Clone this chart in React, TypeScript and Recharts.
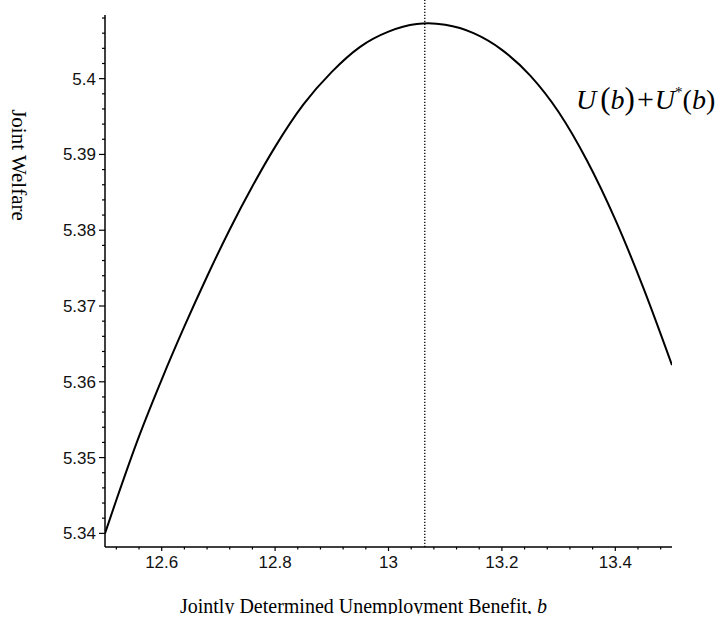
import React from 'react';
import { LineChart, Line, XAxis, YAxis, ReferenceLine } from 'recharts';

// Jointly determined unemployment benefit b (x) and joint welfare U(b)+U*(b) (y)
const benefit = [12.5, 12.52, 12.56, 12.6, 12.64, 12.68, 12.72, 12.76, 12.8, 12.85, 12.9, 12.95, 13.0, 13.05, 13.07, 13.1, 13.15, 13.2, 13.25, 13.3, 13.35, 13.4, 13.45, 13.5];
const welfare = [5.34, 5.3444, 5.3528, 5.3603, 5.3673, 5.3739, 5.3801, 5.3858, 5.391, 5.3966, 5.4009, 5.4042, 5.4062, 5.4072, 5.4073, 5.4071, 5.406, 5.4038, 5.4004, 5.3956, 5.3892, 5.3814, 5.3723, 5.3622];

const optimumBenefit = 13.064;

const xDomain = [12.5, 13.5];
const yDomain = [5.3382, 5.4084];
const yLineTop = 5.4105;

const xMajorTicks = [12.6, 12.8, 13, 13.2, 13.4];
const xMinorTicks = [12.52, 12.56, 12.64, 12.68, 12.72, 12.76, 12.84, 12.88, 12.92, 12.96, 13.04, 13.08, 13.12, 13.16, 13.24, 13.28, 13.32, 13.36, 13.44, 13.48];
const yMajorTicks = [5.34, 5.35, 5.36, 5.37, 5.38, 5.39, 5.4];
const yMinorTicks = [5.342, 5.344, 5.346, 5.348, 5.352, 5.354, 5.356, 5.358, 5.362, 5.364, 5.366, 5.368, 5.372, 5.374, 5.376, 5.378, 5.382, 5.384, 5.386, 5.388, 5.392, 5.394, 5.396, 5.398, 5.402, 5.404, 5.406, 5.408];

const data = benefit.map((b, i) => ({ b, w: welfare[i] }));
const xTicks = [...xMajorTicks, ...xMinorTicks].sort((a, c) => a - c);
const yTicks = [...yMajorTicks, ...yMinorTicks].sort((a, c) => a - c);

const isMajor = (v: number, list: number[]) => list.some((m) => Math.abs(m - v) < 1e-6);

const tickFont = "'Liberation Sans', Arial, sans-serif";
const serif = "'Liberation Serif', 'Times New Roman', serif";

const XTick = (props: any) => {
  const { x, y, payload } = props;
  const major = isMajor(payload.value, xMajorTicks);
  return (
    <g>
      <line x1={x} x2={x} y1={y} y2={y + (major ? 4 : 2.5)} stroke="#000" strokeWidth={1.2} />
      {major && (
        <text x={x} y={y + 21} textAnchor="middle" fontFamily={tickFont} fontSize={17} fill="#111">
          {String(payload.value)}
        </text>
      )}
    </g>
  );
};

const YTick = (props: any) => {
  const { x, y, payload } = props;
  const major = isMajor(payload.value, yMajorTicks);
  return (
    <g>
      <line x1={x} x2={x - (major ? 6 : 3)} y1={y} y2={y} stroke="#000" strokeWidth={1.2} />
      {major && (
        <text x={x - 9} y={y + 6} textAnchor="end" fontFamily={tickFont} fontSize={17} fill="#111">
          {String(payload.value)}
        </text>
      )}
    </g>
  );
};

export default function App() {
  return (
    <div style={{ position: 'absolute', left: 0, top: 0, width: 726, height: 623, background: '#fff' }}>
      <LineChart width={726} height={623} data={data} margin={{ top: 15, right: 54, bottom: 46, left: 45 }}>
        <XAxis
          dataKey="b"
          type="number"
          domain={xDomain}
          ticks={xTicks}
          interval={0}
          tickSize={0}
          tickMargin={0}
          height={30}
          tick={<XTick />}
          axisLine={{ stroke: '#000', strokeWidth: 1.5 }}
          allowDataOverflow
        />
        <YAxis
          dataKey="w"
          type="number"
          domain={yDomain}
          ticks={yTicks}
          interval={0}
          tickSize={0}
          tickMargin={0}
          width={60}
          tick={<YTick />}
          axisLine={{ stroke: '#000', strokeWidth: 1.5 }}
          allowDataOverflow
        />
        <ReferenceLine
          segment={[
            { x: optimumBenefit, y: yDomain[0] },
            { x: optimumBenefit, y: yLineTop },
          ]}
          ifOverflow="visible"
          stroke="#000"
          strokeWidth={1.3}
          strokeDasharray="1.3 1.7"
        />
        <Line
          type="monotone"
          dataKey="w"
          stroke="#000"
          strokeWidth={2}
          dot={false}
          isAnimationActive={false}
        />
      </LineChart>
      <svg
        width={726}
        height={623}
        style={{ position: 'absolute', left: 0, top: 0, pointerEvents: 'none' }}
      >
        <defs>
          <clipPath id="xlabelClip">
            <rect x={0} y={560} width={726} height={54} />
          </clipPath>
        </defs>
        <text
          x={19}
          y={165}
          transform="rotate(90 19 165)"
          textAnchor="middle"
          dominantBaseline="central"
          fontFamily={serif}
          fontSize={21}
          fill="#000"
        >
          Joint Welfare
        </text>
        <g clipPath="url(#xlabelClip)">
          <text x={363.5} y={613} textAnchor="middle" fontFamily={serif} fontSize={20} fill="#000">
            Jointly Determined Unemployment Benefit, <tspan fontStyle="italic">b</tspan>
          </text>
        </g>
        <text x={576} y={109} fontFamily={serif} fontSize={28} fill="#000">
          <tspan fontStyle="italic">U</tspan>
          <tspan dx={4} fontSize={31}>(</tspan>
          <tspan fontStyle="italic">b</tspan>
          <tspan fontSize={31}>)</tspan>
          <tspan dx={2} fontSize={30}>+</tspan>
          <tspan dx={1} fontStyle="italic">U</tspan>
          <tspan fontSize={15} dy={-12}>*</tspan>
          <tspan dy={12}>(</tspan>
          <tspan fontStyle="italic">b</tspan>
          <tspan>)</tspan>
        </text>
      </svg>
    </div>
  );
}
